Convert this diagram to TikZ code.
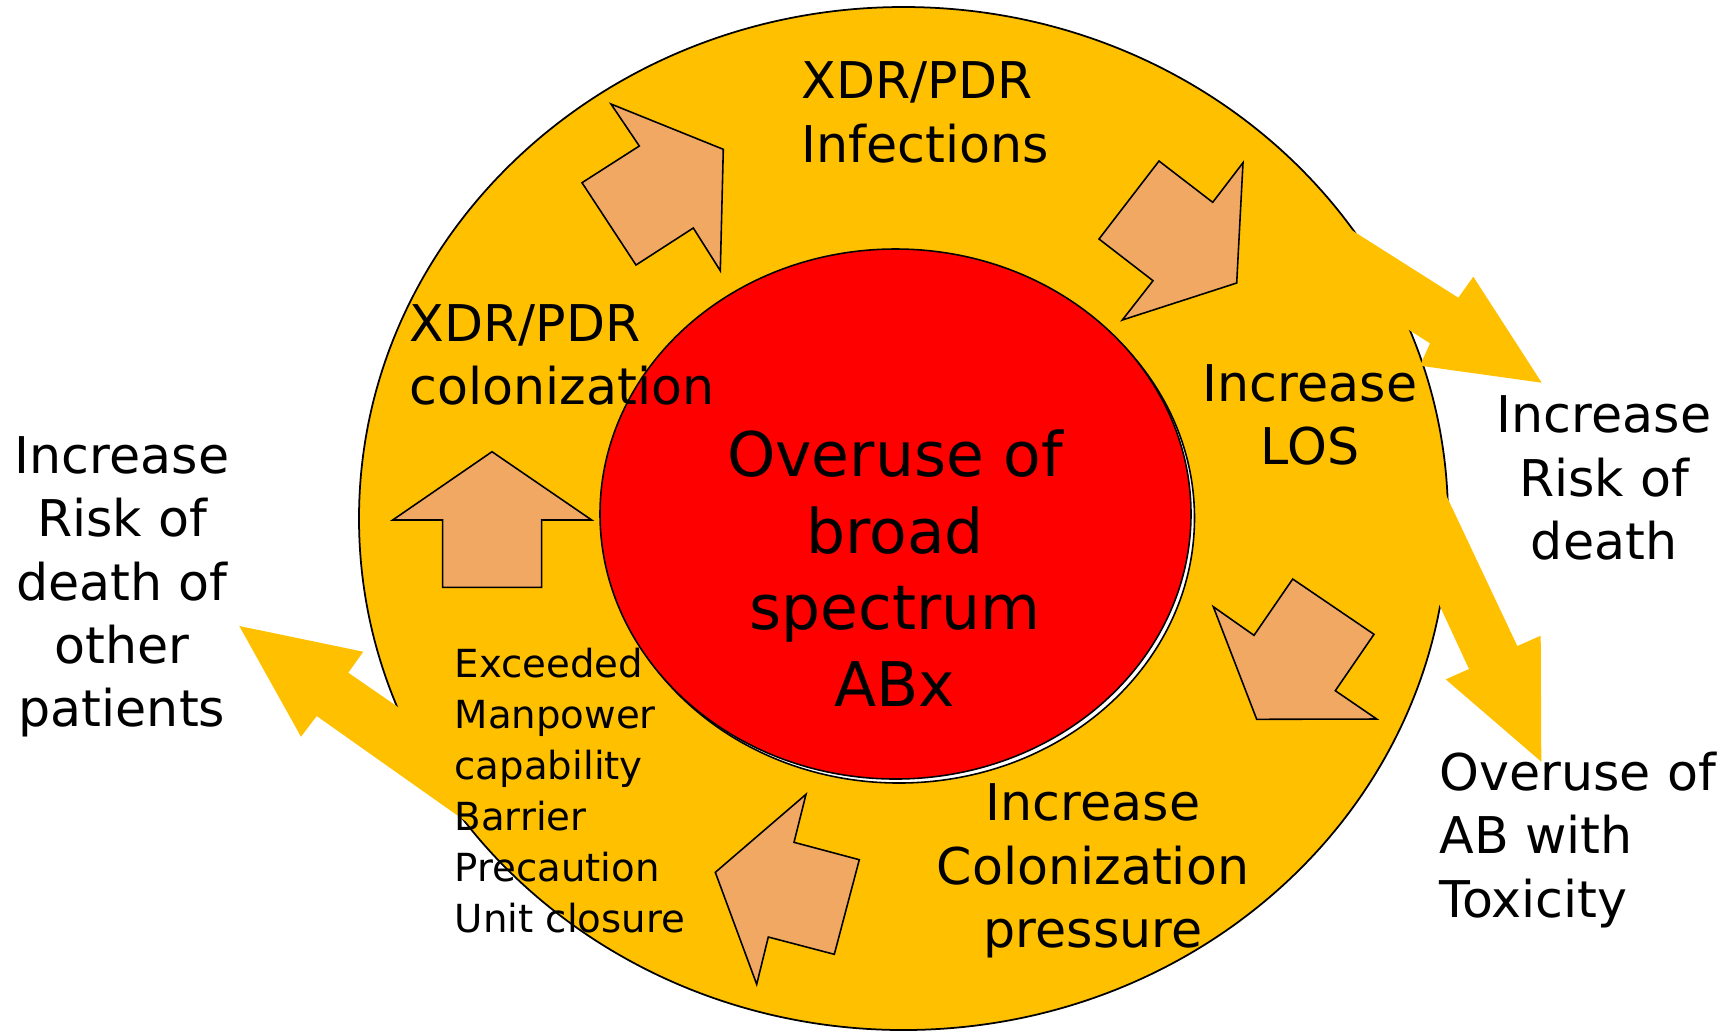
\documentclass[tikz,border=0pt]{standalone}
\usepackage{fontspec}
\setmainfont{DejaVu Sans}
\usetikzlibrary{positioning}
\definecolor{Ink}{HTML}{000000}
\definecolor{CycleYellow}{HTML}{FFC000}
\definecolor{CoreRed}{HTML}{FF0000}
\definecolor{StepOrange}{HTML}{F0A862}
\tikzset{
  cycleRing/.style={draw=Ink,line width=.5pt,fill=CycleYellow},
  coreDisc/.style={draw=Ink,line width=.45pt,fill=CoreRed},
  coreShadow/.style={draw=Ink,line width=.45pt,fill=white},
  stepArrow/.style={draw=Ink,line width=.45pt,fill=StepOrange,line join=miter},
  outArrow/.style={fill=CycleYellow},
  ringLabel/.style={font=\fontsize{14.4}{18}\selectfont,text=Ink,inner sep=0pt},
  ringLeft/.style={ringLabel,align=left,anchor=west},
  ringCenter/.style={ringLabel,align=center},
  smallLabel/.style={font=\fontsize{11}{14.5}\selectfont,text=Ink,align=left,anchor=west,inner sep=0pt},
  coreLabel/.style={font=\fontsize{17.5}{21.8}\selectfont,text=Ink,align=center,inner sep=0pt}
}
\begin{document}
\begin{tikzpicture}[x=0.01cm,y=-0.01cm]
  \useasboundingbox (0,0) rectangle (1733,1032);
  % outer cycle
  \path[cycleRing] (903.5,518.5) ellipse [x radius=544.5,y radius=511.5];
  % consequences leaving the cycle
  \fill[outArrow] (1301,198) -- (1458.3,297.7) -- (1473.3,276.7) -- (1541.7,382.7)
    -- (1420,365.7) -- (1430,343.3) -- (1303.4,262.9) -- cycle;
  \fill[outArrow] (1433.7,468.8) -- (1517.3,646) -- (1540.7,635.7) -- (1541.3,761.7)
    -- (1445.7,679.3) -- (1469,669) -- (1389,496) -- cycle;
  \fill[outArrow] (469,756) -- (348.3,672.7) -- (363.3,651.7) -- (239.3,626)
    -- (301,736.7) -- (316.7,716) -- (486,835.6) -- cycle;
  % core
  \path[coreShadow] (899,518) ellipse [x radius=295.5,y radius=265];
  \path[coreDisc] (895.5,514) ellipse [x radius=295.5,y radius=265];
  \node[coreLabel] (core) at (895,568) {Overuse of\\broad\\spectrum\\ABx};
  % steps of the cycle
  \draw[stepArrow] (611,104) -- (639.3,146) -- (582,182.7) -- (636,265)
    -- (693.3,228) -- (720.3,270.7) -- (723.3,149.3) -- cycle;
  \draw[stepArrow] (1159,161) -- (1212.7,202.3) -- (1243,162.7) -- (1236.7,283)
    -- (1122.3,320) -- (1153,280.7) -- (1099,239) -- cycle;
  \draw[stepArrow] (1292.7,579) -- (1374,634.3) -- (1335.3,690.7) -- (1376.7,719)
    -- (1256.7,719.3) -- (1213.3,606.7) -- (1254,635.3) -- cycle;
  \draw[stepArrow] (806,794.3) -- (794,842.3) -- (859.3,859.7) -- (834.3,954.3)
    -- (768.3,937) -- (756.7,984.3) -- (715.3,872.3) -- cycle;
  \draw[stepArrow] (492,451.7) -- (591.7,520) -- (541.7,520) -- (541.7,587.3)
    -- (442.7,587.3) -- (442.7,520) -- (392.7,520) -- cycle;
  % labels
  \node[ringLeft] (infect) at (801,112.5) {XDR/PDR\\Infections};
  \node[ringLeft] (colon) at (409,355) {XDR/PDR\\colonization};
  \node[ringCenter] (los) at (1310,415) {Increase\\LOS};
  \node[ringCenter] (press) at (1093,871) {Increase\\Colonization\\pressure};
  \node[smallLabel] (manpow) at (454,790.5) {Exceeded\\Manpower\\capability\\Barrier\\Precaution\\Unit closure};
  \node[ringCenter] (death) at (1604,478) {Increase\\Risk of\\death};
  \node[ringLeft] (toxic) at (1439,840) {Overuse of\\AB with\\Toxicity};
  \node[ringCenter] (others) at (122,587) {Increase\\Risk of\\death of\\other\\patients};
\end{tikzpicture}
\end{document}
